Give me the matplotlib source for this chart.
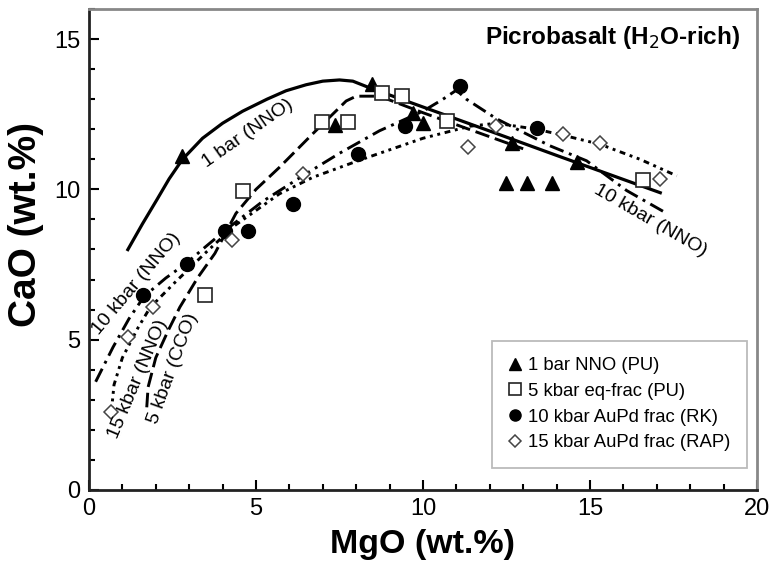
import matplotlib
matplotlib.use("Agg")
import matplotlib.pyplot as plt
from matplotlib.ticker import MultipleLocator

plt.rcParams['font.family'] = ['Liberation Sans', 'DejaVu Sans']

# experimental data (MgO, CaO in wt.%)
bar1_mgo = [2.78, 7.37, 8.47, 9.7, 10.0, 12.66, 14.6, 12.5, 13.1, 13.86]
bar1_cao = [11.1, 12.15, 13.5, 12.55, 12.2, 11.55, 10.9, 10.2, 10.2, 10.2]

kb5_mgo = [3.47, 4.61, 6.98, 7.75, 8.77, 9.37, 10.72, 16.6]
kb5_cao = [6.47, 9.96, 12.23, 12.23, 13.2, 13.1, 12.28, 10.3]

kb10_mgo = [1.62, 2.93, 4.07, 4.76, 6.1, 8.05, 9.46, 11.1, 13.4]
kb10_cao = [6.47, 7.53, 8.63, 8.63, 9.52, 11.18, 12.1, 13.44, 12.05]

kb15_mgo = [0.67, 1.17, 1.92, 4.28, 6.4, 11.35, 12.2, 14.2, 15.3, 17.1]
kb15_cao = [2.6, 5.08, 6.1, 8.3, 10.5, 11.4, 12.1, 11.85, 11.55, 10.35]

# model liquid lines of descent
line1_x = [1.14, 1.6, 2.03, 2.4, 2.8, 3.4, 4.0, 4.6, 5.33, 5.9, 6.5, 7.0, 7.5, 7.9, 8.4, 10.0, 12.0, 14.0, 16.0, 17.15]
line1_y = [7.95, 8.85, 9.65, 10.35, 11.0, 11.7, 12.2, 12.6, 13.0, 13.28, 13.48, 13.6, 13.64, 13.6, 13.38, 12.74, 11.94, 11.13, 10.33, 9.87]

line5_x = [1.73, 1.77, 2.0, 2.37, 2.72, 3.26, 3.77, 4.4, 5.0, 5.7, 6.7, 7.7, 8.0, 8.7, 10.0, 11.5, 13.0]
line5_y = [2.75, 3.42, 4.4, 5.3, 6.08, 7.07, 7.87, 9.2, 10.0, 10.73, 11.85, 12.94, 13.1, 13.1, 12.55, 11.95, 11.35]

line10_x = [0.2, 0.72, 1.2, 1.65, 2.3, 2.9, 3.5, 4.07, 5.2, 6.4, 7.5, 8.7, 10.0, 10.6, 11.0, 11.3, 12.2, 13.8, 14.9, 16.1, 17.3]
line10_y = [3.6, 4.75, 5.7, 6.44, 7.05, 7.53, 8.1, 8.63, 9.6, 10.45, 11.2, 11.95, 12.6, 13.0, 13.3, 13.0, 12.35, 11.45, 10.95, 9.96, 9.2]

line15_x = [0.67, 0.75, 1.0, 1.47, 1.83, 2.57, 3.47, 4.37, 5.7, 6.7, 8.05, 8.7, 10.0, 11.4, 12.2, 13.4, 14.2, 15.3, 16.5, 17.6]
line15_y = [2.6, 3.5, 4.4, 5.4, 6.07, 6.9, 7.87, 8.8, 9.85, 10.4, 10.95, 11.2, 11.7, 12.1, 12.2, 12.0, 11.8, 11.5, 11.0, 10.45]

fig = plt.figure(figsize=(7.71, 5.63), dpi=100)
ax = fig.add_axes([0.1154, 0.1297, 0.8664, 0.8543])

ax.plot(line1_x, line1_y, color='black', lw=2.3, solid_capstyle='butt')
ax.plot(line5_x, line5_y, color='black', lw=2.1, dashes=(5, 2))
ax.plot(line10_x, line10_y, color='black', lw=2.1, dashes=(5, 2, 1, 2))
ax.plot(line15_x, line15_y, color='black', lw=2.1, dashes=(2, 1.6, 1, 1.6, 1, 1.6))

ax.plot(bar1_mgo, bar1_cao, '^', color='black', ms=10, ls='none', label='1 bar NNO (PU)')
ax.plot(kb5_mgo, kb5_cao, 's', mfc='white', mec='#222222', mew=1.2, ms=10, ls='none', label='5 kbar eq-frac (PU)')
ax.plot(kb10_mgo, kb10_cao, 'o', color='black', ms=10, ls='none', label='10 kbar AuPd frac (RK)')
ax.plot(kb15_mgo, kb15_cao, 'D', mfc='white', mec='#444444', mew=1.1, ms=7.5, ls='none', label='15 kbar AuPd frac (RAP)')

# line labels
lab = dict(fontsize=14, ha='center', va='center')
ax.text(4.76, 11.85, '1 bar (NNO)', rotation=35, **lab)
ax.text(1.42, 6.85, '10 kbar (NNO)', rotation=50, **lab)
ax.text(1.47, 3.7, '15 kbar (NNO)', rotation=67, **lab)
ax.text(2.5, 4.05, '5 kbar (CCO)', rotation=70, **lab)
ax.text(16.8, 8.95, '10 kbar (NNO)', rotation=-30, **lab)

ax.text(0.975, 0.94, 'Picrobasalt (H$_2$O-rich)', transform=ax.transAxes,
        ha='right', va='center', fontsize=17.5, fontweight='bold')

ax.set_xlim(0, 20)
ax.set_ylim(0, 16)
ax.xaxis.set_major_locator(MultipleLocator(5))
ax.xaxis.set_minor_locator(MultipleLocator(1))
ax.yaxis.set_major_locator(MultipleLocator(5))
ax.yaxis.set_minor_locator(MultipleLocator(1))
ax.tick_params(which='both', direction='in', top=False, right=False, labelsize=17, width=1.5)
ax.tick_params(which='major', length=7, pad=6)
ax.tick_params(which='minor', length=4)

for s in ['left', 'bottom']:
    ax.spines[s].set_linewidth(2)
    ax.spines[s].set_color('#222222')
for s in ['top', 'right']:
    ax.spines[s].set_linewidth(2)
    ax.spines[s].set_color('#888888')

ax.set_xlabel('MgO (wt.%)', fontsize=24.5, fontweight='bold', labelpad=6)
ax.set_ylabel('CaO (wt.%)', fontsize=28, fontweight='bold')
ax.yaxis.set_label_coords(-0.068, 0.551)

leg = ax.legend(loc='lower right', bbox_to_anchor=(0.985, 0.046), borderaxespad=0,
                fontsize=13.3, markerscale=0.8, handlelength=0.7, handletextpad=0.35,
                frameon=True, fancybox=False, edgecolor='#aaaaaa', borderpad=0.9,
                labelspacing=0.47)
leg.get_frame().set_linewidth(1.3)

fig.savefig('out.png', dpi=100)
